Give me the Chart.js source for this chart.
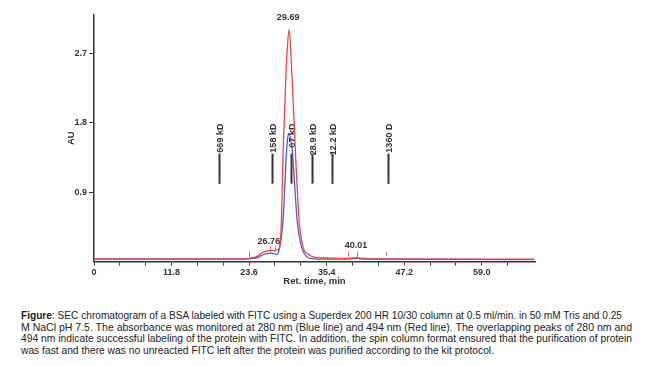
<!DOCTYPE html>
<html>
<head>
<meta charset="utf-8">
<script src="https://cdn.jsdelivr.net/npm/chart.js@4.4.0/dist/chart.umd.min.js"></script>
<style>
  body { margin: 0; background: #fff; }
  #wrap { position: relative; width: 650px; height: 300px; }
  #caption {
    position: absolute; left: 21px; top: 310px;
    font: 11px "Liberation Sans", Arial, sans-serif;
    color: #222; white-space: nowrap;
  }
  #caption div { height: 11.5px; line-height: 11.5px; }
  #caption span { display: inline-block; transform-origin: 0 50%; }
</style>
</head>
<body>
<div id="wrap"><canvas id="chrom" width="650" height="300"></canvas></div>
<div id="caption">
<div><span><b>Figure</b>: SEC chromatogram of a BSA labeled with FITC using a Superdex 200 HR 10/30 column at 0.5 ml/min. in 50 mM Tris and 0.25</span></div>
<div><span>M NaCl pH 7.5. The absorbance was monitored at 280 nm (Blue line) and 494 nm (Red line). The overlapping peaks of 280 nm and</span></div>
<div><span>494 nm indicate successful labeling of the protein with FITC. In addition, the spin column format ensured that the purification of protein</span></div>
<div><span>was fast and there was no unreacted FITC left after the protein was purified according to the kit protocol.</span></div>
</div>
<script>
// 494 nm trace (red)
var redTime = [0, 22.2, 23.7, 24.9, 25.5, 26.1, 26.75, 27.4, 27.96, 28.27, 28.52, 28.77, 29.13, 29.4, 29.69,
               29.95, 30.2, 30.65, 31.2, 31.8, 32.5, 33.85, 36.0, 38.0, 40.0, 41.0, 45.0, 67.0];
var redAU   = [0.035, 0.035, 0.045, 0.07, 0.11, 0.13, 0.14, 0.14, 0.15, 0.19, 0.54, 1.41, 2.27, 2.75, 3.01,
               2.7, 2.27, 1.41, 0.54, 0.19, 0.1, 0.05, 0.045, 0.04, 0.05, 0.04, 0.035, 0.03];
// 280 nm trace (blue)
var blueTime = [0, 22.0, 23.7, 24.9, 25.5, 26.1, 26.8, 27.4, 27.8, 28.27, 28.77, 29.03, 29.28, 29.5, 29.69,
                29.9, 30.2, 30.55, 30.9, 31.57, 32.2, 32.8, 34.5, 38.5, 40.0, 41.2, 67.0];
var blueAU   = [0.03, 0.03, 0.035, 0.05, 0.08, 0.1, 0.11, 0.1, 0.09, 0.19, 0.54, 0.97, 1.41, 1.62, 1.66,
                1.6, 1.41, 0.97, 0.54, 0.19, 0.08, 0.04, 0.03, 0.03, 0.04, 0.03, 0.025];

// molecular weight standards
var mwLabels = ['669 kD', '158 kD', '67 kD', '28.9 kD', '12.2 kD', '1360 D'];
var mwTimes  = [19.0, 27.1, 29.9, 33.2, 36.2, 44.7];

// labelled peaks and integration marks
var peakLabels  = ['29.69', '26.76', '40.01'];
var peakTimes   = [29.69, 26.76, 40.01];
var peakLabelAU = [3.14, 0.225, 0.17];
var markTimes   = [23.6, 26.76, 27.5, 38.6, 40.01, 44.4];
var markTop     = [0.13, 0.2, 0.2, 0.13, 0.13, 0.12];
var markBottom  = [0.06, 0.13, 0.13, 0.06, 0.06, 0.07];

var xTicks = [0, 3.93, 7.87, 11.8, 15.73, 19.67, 23.6, 27.53, 31.47, 35.4, 39.33, 43.27, 47.2, 51.13, 55.07, 59.0, 62.93];
var xTickLabels = ['0', '11.8', '23.6', '35.4', '47.2', '59.0'];
var yTicks = [0.9, 1.8, 2.7];

var fontFamily = '"Liberation Sans", Arial, sans-serif';
var ink = '#333';

// stretch each caption line to the width it has in the figure
var captionEnds = [622, 632, 632, 494];
document.querySelectorAll('#caption span').forEach(function (s, i) {
    var w = s.getBoundingClientRect().width;
    s.style.transform = 'scaleX(' + ((captionEnds[i] - 21) / w) + ')';
});

function toPoints(xs, ys) {
    return xs.map(function (x, i) { return { x: x, y: ys[i] }; });
}

var extras = {
    id: 'extras',
    beforeDatasetsDraw: function (chart) {
        var ctx = chart.ctx, x = chart.scales.x, y = chart.scales.y;
        ctx.save();
        ctx.strokeStyle = ink;
        ctx.fillStyle = ink;
        ctx.lineWidth = 2;
        ctx.font = 'bold 9px ' + fontFamily;
        mwTimes.forEach(function (t, i) {
            var px = Math.round(x.getPixelForValue(t)) + 0.5;
            ctx.beginPath();
            ctx.moveTo(px, y.getPixelForValue(1.4));
            ctx.lineTo(px, y.getPixelForValue(1.01));
            ctx.stroke();
            ctx.save();
            ctx.translate(px + 1, y.getPixelForValue(1.79));
            ctx.rotate(-Math.PI / 2);
            ctx.textAlign = 'right';
            ctx.textBaseline = 'middle';
            ctx.fillText(mwLabels[i], 0, 0);
            ctx.restore();
        });
        ctx.restore();
    },
    afterDatasetsDraw: function (chart) {
        var ctx = chart.ctx, x = chart.scales.x, y = chart.scales.y;
        ctx.save();
        ctx.strokeStyle = '#e86a6a';
        ctx.lineWidth = 1;
        markTimes.forEach(function (t, i) {
            var px = Math.round(x.getPixelForValue(t)) + 0.5;
            ctx.beginPath();
            ctx.moveTo(px, y.getPixelForValue(markTop[i]));
            ctx.lineTo(px, y.getPixelForValue(markBottom[i]));
            ctx.stroke();
        });
        ctx.fillStyle = ink;
        ctx.font = 'bold 9px ' + fontFamily;
        ctx.textAlign = 'center';
        ctx.textBaseline = 'alphabetic';
        peakTimes.forEach(function (t, i) {
            ctx.fillText(peakLabels[i], x.getPixelForValue(t) - 1, y.getPixelForValue(peakLabelAU[i]));
        });
        ctx.restore();
    }
};

var chart = new Chart(document.getElementById('chrom').getContext('2d'), {
    type: 'line',
    data: {
        datasets: [{
            label: '494 nm',
            data: toPoints(redTime, redAU),
            borderColor: 'rgb(232, 72, 68)',
            borderWidth: 1.3,
            pointRadius: 0,
            cubicInterpolationMode: 'monotone'
        }, {
            label: '280 nm',
            data: toPoints(blueTime, blueAU),
            borderColor: 'rgba(62, 72, 210, 0.9)',
            borderWidth: 1.3,
            pointRadius: 0,
            cubicInterpolationMode: 'monotone'
        }]
    },
    options: {
        responsive: false,
        animation: false,
        devicePixelRatio: 1,
        layout: { padding: { left: 66, right: 115, top: 15, bottom: 10.5 } },
        plugins: { legend: { display: false }, tooltip: { enabled: false } },
        scales: {
            x: {
                type: 'linear',
                min: 0,
                max: 67.1,
                afterBuildTicks: function (scale) {
                    scale.ticks = xTicks.map(function (v) { return { value: v }; });
                },
                afterFit: function (scale) { scale.height = 28; },
                ticks: {
                    autoSkip: false,
                    maxRotation: 0,
                    padding: 2,
                    color: ink,
                    font: { family: fontFamily, size: 9, weight: 'bold' },
                    callback: function (v, i) { return i % 3 === 0 ? xTickLabels[i / 3] : ''; }
                },
                grid: { drawOnChartArea: false, drawTicks: true, tickLength: 4, color: ink, lineWidth: 1 },
                border: { color: ink, width: 1.5 },
                title: {
                    display: true,
                    text: 'Ret. time, min',
                    color: ink,
                    font: { family: fontFamily, size: 9.5, weight: 'bold' },
                    padding: { top: 0, bottom: 2 }
                }
            },
            y: {
                min: 0,
                max: 3.2,
                afterBuildTicks: function (scale) {
                    scale.ticks = yTicks.map(function (v) { return { value: v }; });
                },
                afterFit: function (scale) { scale.width = 28; },
                ticks: {
                    padding: 2,
                    color: ink,
                    font: { family: fontFamily, size: 9, weight: 'bold' },
                    callback: function (v) { return v.toFixed(1); }
                },
                grid: { drawOnChartArea: false, drawTicks: true, tickLength: 5, color: ink, lineWidth: 1 },
                border: { color: ink, width: 1.5 },
                title: {
                    display: true,
                    text: 'AU',
                    color: ink,
                    font: { family: fontFamily, size: 9.5, weight: 'bold' },
                    padding: 0
                }
            }
        }
    },
    plugins: [extras]
});
</script>
</body>
</html>
